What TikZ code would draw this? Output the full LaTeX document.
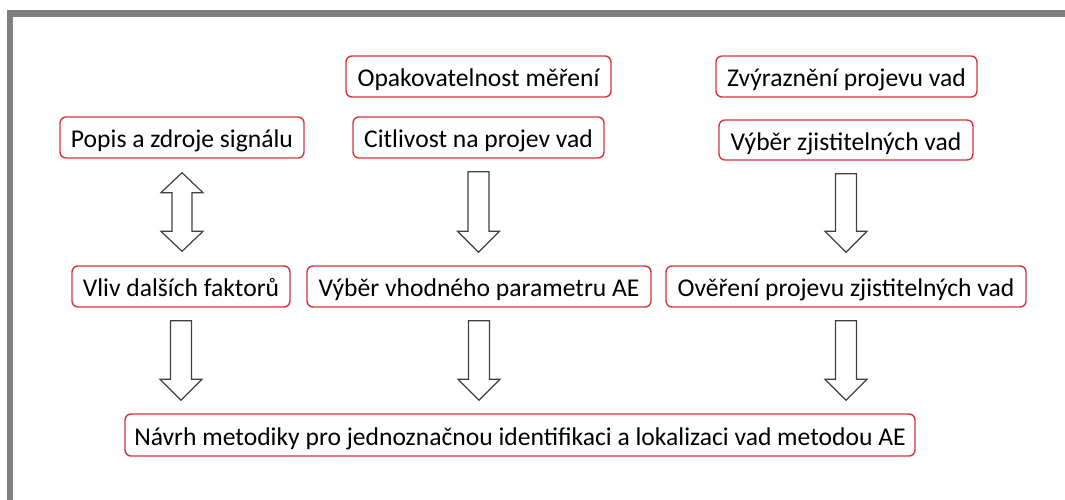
\documentclass[tikz,border=0pt]{standalone}
\usepackage{fontspec}
\setmainfont{Carlito}
\usetikzlibrary{calc}
\definecolor{boxred}{RGB}{214,54,58}
\definecolor{framegray}{RGB}{128,128,128}
\definecolor{arrowgray}{RGB}{64,64,64}
\tikzset{
    stepbox/.style={
        draw=boxred, line width=1.4pt,
        rounded corners=6pt,
        fill=white,
        inner sep=0pt,
        minimum height=41pt,
        text height=25pt, text depth=4.6pt,
        font=\fontsize{25.6}{30}\selectfont,
    },
    blockarrow/.style={
        draw=arrowgray, line width=1.2pt,
        fill=white, line join=miter,
    },
}
% hollow arrow from #1 down to #2
\newcommand{\blockdown}[2]{%
    \draw[blockarrow] let \p1=($(#1.south)+(0,-13pt)$),
        \p2=($(#1.south |- #2.north)+(0,13pt)$) in
        (\x1-10.5pt,\y1) -- (\x1+10.5pt,\y1) -- (\x1+10.5pt,\y2+21pt)
        -- (\x1+21pt,\y2+21pt) -- (\x1,\y2) -- (\x1-21pt,\y2+21pt)
        -- (\x1-10.5pt,\y2+21pt) -- cycle;}
% hollow arrow with two heads
\newcommand{\blockboth}[2]{%
    \draw[blockarrow] let \p1=($(#1.south)+(0,-14pt)$),
        \p2=($(#1.south |- #2.north)+(0,14pt)$) in
        (\x1,\y1) -- (\x1+21pt,\y1-20pt) -- (\x1+10pt,\y1-20pt)
        -- (\x1+10pt,\y2+20pt) -- (\x1+21pt,\y2+20pt) -- (\x1,\y2)
        -- (\x1-21pt,\y2+20pt) -- (\x1-10pt,\y2+20pt)
        -- (\x1-10pt,\y1-20pt) -- (\x1-21pt,\y1-20pt) -- cycle;}

\begin{document}
\begin{tikzpicture}[x=1pt, y=-1pt]
    \useasboundingbox (0,0) rectangle (1065,500);
    \draw[framegray, line width=6.5pt] (10,505) -- (10,13.5) -- (1070,13.5);

    \node[stepbox, minimum width=265pt] (opak) at (478.5,76.5) {Opakovatelnost měření};
    \node[stepbox, minimum width=261pt] (zvyr) at (846.5,76.5) {Zvýraznění projevu vad};
    \node[stepbox, minimum width=244pt] (popis) at (182,137.5) {Popis a zdroje signálu};
    \node[stepbox, minimum width=251pt] (citl) at (478.5,137.5) {Citlivost na projev vad};
    \node[stepbox, minimum width=254pt, minimum height=40pt] (vyberz) at (846,140) {Výběr zjistitelných vad};
    \node[stepbox, minimum width=218pt] (vliv) at (181,286.5) {Vliv dalších faktorů};
    \node[stepbox, minimum width=344pt] (vyberv) at (479,286.5) {Výběr vhodného parametru AE};
    \node[stepbox, minimum width=360pt] (over) at (846,286.5) {Ověření projevu zjistitelných vad};
    \node[stepbox, minimum width=790pt, minimum height=42pt] (navrh) at (520,435)
        {Návrh metodiky pro jednoznačnou identifikaci a lokalizaci vad metodou AE};

    \blockboth{popis}{vliv}
    \blockdown{citl}{vyberv}
    \blockdown{vyberz}{over}
    \blockdown{vliv}{navrh}
    \blockdown{vyberv}{navrh}
    \blockdown{over}{navrh}
\end{tikzpicture}
\end{document}
